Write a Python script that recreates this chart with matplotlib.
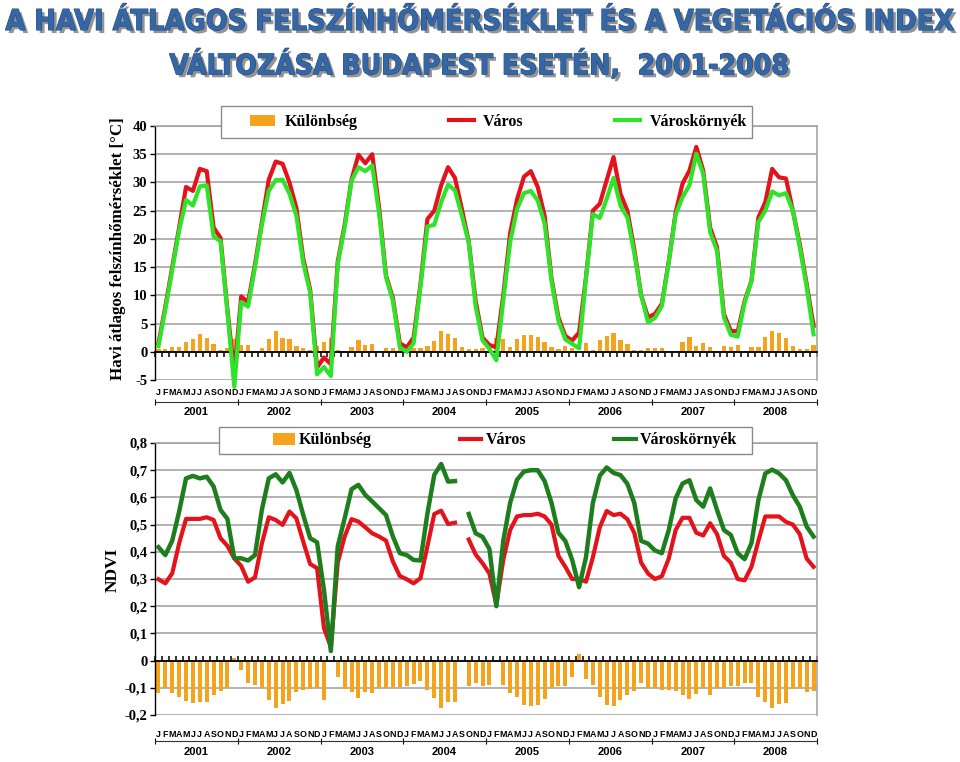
import os
import numpy as np
import matplotlib
matplotlib.use('Agg')
import matplotlib.pyplot as plt
from matplotlib import patheffects as pe
from matplotlib import font_manager
from matplotlib.font_manager import FontProperties
from matplotlib.patches import Patch, Rectangle
from matplotlib.lines import Line2D

# ---------------- data ----------------
months = ['J', 'F', 'M', 'A', 'M', 'J', 'J', 'A', 'S', 'O', 'N', 'D']
years = ['2001', '2002', '2003', '2004', '2005', '2006', '2007', '2008']
month_labels = months * len(years)

series_names = ['Különbség', 'Város', 'Városkörnyék']

temp_varos = [
    1.5, 8.0, 15.0, 22.0, 29.2, 28.5, 32.4, 32.0, 22.0, 20.2, 7.5, -4.0,
    9.8, 8.8, 15.5, 23.0, 30.5, 33.7, 33.3, 30.0, 25.5, 16.5, 11.0, -2.8,
    -1.0, -2.2, 16.0, 22.5, 30.5, 34.9, 33.4, 35.0, 25.5, 13.5, 9.5, 1.5,
    0.8, 2.5, 12.0, 23.5, 25.0, 29.5, 32.7, 30.8, 25.3, 19.5, 9.0, 2.5,
    1.2, 0.8, 10.0, 21.0, 27.0, 31.0, 32.0, 29.2, 24.1, 13.0, 6.1, 2.8,
    2.0, 3.4, 13.2, 25.0, 26.2, 30.4, 34.5, 28.0, 25.0, 18.2, 10.0, 6.1,
    6.7, 8.5, 16.0, 24.7, 29.8, 32.1, 36.3, 32.1, 22.0, 18.5, 6.7, 3.7,
    3.6, 9.0, 12.6, 23.8, 26.5, 32.4, 30.9, 30.7, 25.0, 19.1, 12.0, 4.6,
]
temp_kornyek = [
    1.0, 7.5, 14.5, 21.5, 26.9, 25.9, 29.3, 29.5, 20.4, 19.6, 7.0, -6.2,
    8.8, 8.0, 15.0, 22.5, 28.5, 30.4, 30.5, 28.0, 24.1, 15.7, 10.5, -4.0,
    -2.7, -4.3, 15.5, 22.0, 30.3, 32.7, 32.0, 33.0, 24.5, 13.2, 9.0, 0.8,
    0.0, 1.5, 11.5, 22.2, 22.5, 26.5, 29.6, 28.6, 24.1, 19.3, 8.0, 2.0,
    0.5, -1.5, 9.0, 19.4, 25.3, 28.1, 28.5, 26.8, 22.7, 12.5, 5.5, 2.2,
    1.4, 0.6, 13.0, 24.4, 23.7, 27.1, 30.8, 25.9, 23.8, 17.5, 10.0, 5.2,
    6.0, 8.1, 15.8, 24.3, 27.4, 29.5, 35.1, 31.5, 21.2, 17.9, 6.1, 3.0,
    2.7, 8.7, 12.5, 23.0, 25.0, 28.4, 27.7, 28.1, 25.0, 18.5, 11.5, 3.1,
]
temp_kulonbseg = [
    0.5, 0.5, 0.8, 0.8, 1.8, 2.3, 3.1, 2.4, 1.4, 0.4, 0.6, 2.2,
    1.2, 1.2, 0.0, 0.6, 2.3, 3.6, 2.4, 2.2, 1.1, 0.6, 0.4, 1.0,
    1.7, 2.4, 0.4, 0.0, 0.9, 2.1, 1.2, 1.4, 0.1, 0.6, 0.6, 0.6,
    0.1, 0.6, 0.6, 1.0, 1.9, 3.7, 3.1, 2.4, 0.9, 0.5, 0.5, 0.6,
    0.1, 2.4, 2.3, 0.9, 2.3, 2.9, 3.0, 2.7, 1.8, 0.8, 0.5, 1.0,
    0.7, 0.2, 1.6, 0.3, 2.1, 2.8, 3.3, 2.1, 1.3, 0.4, 0.4, 0.6,
    0.6, 0.6, 0.1, 0.1, 1.8, 2.7, 1.1, 1.6, 0.8, 0.1, 1.1, 0.9,
    1.2, 0.1, 0.9, 0.9, 2.6, 3.7, 3.3, 2.5, 1.1, 0.5, 0.5, 1.2,
]

nan = float('nan')
ndvi_varos = [
    0.299, 0.284, 0.321, 0.431, 0.521, 0.521, 0.521, 0.527, 0.517, 0.450, 0.422, 0.376,
    0.348, 0.290, 0.306, 0.431, 0.527, 0.517, 0.499, 0.548, 0.523, 0.437, 0.355, 0.340,
    0.120, 0.050, 0.360, 0.456, 0.520, 0.511, 0.490, 0.468, 0.456, 0.441, 0.364, 0.311,
    0.299, 0.284, 0.303, 0.420, 0.539, 0.551, 0.502, 0.507, nan, 0.445, 0.390, 0.358,
    0.320, 0.205, 0.370, 0.480, 0.530, 0.535, 0.535, 0.540, 0.530, 0.500, 0.385, 0.345,
    0.300, 0.300, 0.290, 0.380, 0.490, 0.550, 0.535, 0.540, 0.520, 0.470, 0.360, 0.320,
    0.300, 0.310, 0.375, 0.480, 0.525, 0.525, 0.470, 0.460, 0.505, 0.465, 0.385, 0.360,
    0.300, 0.295, 0.345, 0.440, 0.530, 0.530, 0.530, 0.510, 0.500, 0.465, 0.375, 0.345,
]
ndvi_kornyek = [
    0.417, 0.388, 0.441, 0.548, 0.670, 0.679, 0.670, 0.676, 0.640, 0.554, 0.521, 0.376,
    0.376, 0.368, 0.388, 0.555, 0.670, 0.685, 0.655, 0.690, 0.627, 0.535, 0.450, 0.435,
    0.260, 0.035, 0.420, 0.523, 0.630, 0.646, 0.609, 0.585, 0.560, 0.535, 0.456, 0.395,
    0.388, 0.370, 0.368, 0.540, 0.683, 0.723, 0.658, 0.660, nan, 0.539, 0.468, 0.455,
    0.410, 0.200, 0.440, 0.580, 0.665, 0.695, 0.700, 0.700, 0.660, 0.580, 0.470, 0.440,
    0.370, 0.270, 0.380, 0.580, 0.680, 0.710, 0.690, 0.682, 0.650, 0.580, 0.440, 0.430,
    0.405, 0.395, 0.480, 0.596, 0.651, 0.663, 0.590, 0.566, 0.633, 0.554, 0.480, 0.462,
    0.395, 0.373, 0.432, 0.590, 0.688, 0.702, 0.688, 0.663, 0.608, 0.566, 0.493, 0.456,
]
ndvi_kulonbseg = [
    -0.120, -0.100, -0.120, -0.132, -0.150, -0.157, -0.153, -0.153, -0.126, -0.110, -0.100, 0.008,
    -0.034, -0.083, -0.090, -0.100, -0.145, -0.173, -0.160, -0.148, -0.114, -0.108, -0.104, -0.100,
    -0.145, 0.000, -0.059, -0.105, -0.114, -0.136, -0.116, -0.120, -0.100, -0.100, -0.096, -0.096,
    -0.092, -0.087, -0.074, -0.108, -0.136, -0.173, -0.151, -0.153, nan, -0.095, -0.083, -0.095,
    -0.089, 0.000, -0.090, -0.120, -0.132, -0.162, -0.168, -0.162, -0.141, -0.101, -0.093, -0.093,
    -0.059, 0.023, -0.068, -0.089, -0.132, -0.165, -0.166, -0.144, -0.126, -0.110, -0.083, -0.101,
    -0.099, -0.107, -0.107, -0.113, -0.126, -0.141, -0.123, -0.101, -0.126, -0.101, -0.101, -0.095,
    -0.093, -0.083, -0.083, -0.132, -0.154, -0.176, -0.159, -0.156, -0.105, -0.101, -0.115, -0.110,
]

temp_ticks = [-5, 0, 5, 10, 15, 20, 25, 30, 35, 40]
temp_ticklabels = ['-5', '0', '5', '10', '15', '20', '25', '30', '35', '40']
ndvi_ticks = [-0.2, -0.1, 0.0, 0.1, 0.2, 0.3, 0.4, 0.5, 0.6, 0.7, 0.8]
ndvi_ticklabels = ['-0,2', '-0,1', '0', '0,1', '0,2', '0,3', '0,4', '0,5', '0,6', '0,7', '0,8']

title_1 = 'A HAVI ÁTLAGOS FELSZÍNHŐMÉRSÉKLET ÉS A VEGETÁCIÓS INDEX'
title_2 = 'VÁLTOZÁSA BUDAPEST ESETÉN,  2001-2008'
ylabel_temp = 'Havi átlagos felszínhőmérséklet [°C]'
ylabel_ndvi = 'NDVI'

# ---------------- style ----------------
ORANGE = '#F5A21C'
RED = '#E3121B'
GREEN_T = '#2FE32A'
GREEN_N = '#1E7E1E'
GRID = '#9E9E9E'
SERIF = ['Liberation Serif', 'DejaVu Serif']
SANS = ['Liberation Sans', 'DejaVu Sans']


def pick_title_font():
    best, best_score = None, -1e9
    for f in font_manager.fontManager.ttflist:
        key = (f.name + ' ' + os.path.basename(f.fname)).lower().replace(' ', '')
        if f.style != 'normal' or 'mono' in key or 'cjk' in key:
            continue
        if 'serif' in key and 'sans' not in key:
            continue
        if 'extracondensed' in key or 'ultracondensed' in key:
            s = 30
        elif 'semicondensed' in key:
            s = 10
        elif 'condensed' in key or 'narrow' in key:
            s = 40
        else:
            continue
        w = f.weight if isinstance(f.weight, int) else font_manager.weight_dict.get(f.weight, 400)
        if w < 600 or w > 850:
            continue
        s -= abs(w - 700) / 100.0
        if s > best_score:
            best, best_score = f.fname, s
    if best is None:
        return FontProperties(family='DejaVu Sans', weight='bold')
    return FontProperties(fname=best)


W, H = 960, 762
fig = plt.figure(figsize=(W / 100, H / 100), dpi=100)


def rect(l, t, r, b):
    return [l / W, 1 - b / H, (r - l) / W, (b - t) / H]


ax1 = fig.add_axes(rect(155, 126, 817, 380))
ax2 = fig.add_axes(rect(155, 443, 817, 715))
x = np.arange(len(month_labels))


def setup(ax, ticks, ticklabels, ylim, tick_dir, month_pad, year_loc, year_pad):
    ax.set_xlim(-0.5, len(month_labels) - 0.5)
    ax.set_ylim(*ylim)
    ax.set_yticks(ticks)
    ax.set_yticklabels(ticklabels, fontfamily=SERIF, fontweight='bold', fontsize=10.5)
    ax.yaxis.grid(True, color=GRID, lw=1.1)
    ax.set_axisbelow(True)
    for s in ['top', 'right']:
        ax.spines[s].set_color(GRID)
        ax.spines[s].set_linewidth(1.1)
    ax.spines['left'].set_color('black')
    ax.spines['left'].set_linewidth(1.0)
    ax.spines['bottom'].set_position(('data', 0))
    ax.spines['bottom'].set_color('black')
    ax.spines['bottom'].set_linewidth(1.3)
    ax.tick_params(axis='y', direction='out', length=3.5, width=1, pad=2)
    ax.set_xticks(np.arange(-0.5, len(month_labels), 1))
    ax.tick_params(axis='x', direction=tick_dir, length=3.8, width=1.1,
                   labelbottom=False)
    # month level of the category axis
    sec = ax.secondary_xaxis('bottom')
    sec.set_xticks(x, month_labels, fontfamily=SANS, fontweight='bold', fontsize=6.4)
    sec.tick_params(length=0, pad=month_pad)
    sec.spines['bottom'].set_visible(False)
    # year level
    sec2 = ax.secondary_xaxis(year_loc)
    sec2.set_xticks(np.arange(5.5, len(month_labels), 12), years,
                    fontfamily=SANS, fontweight='bold', fontsize=8)
    sec2.set_xticks(np.arange(-0.5, len(month_labels), 12), minor=True)
    sec2.tick_params(which='major', length=0, pad=year_pad)
    sec2.tick_params(which='minor', length=5, direction='inout', width=0.8)
    sec2.spines['bottom'].set_color('#333333')
    sec2.spines['bottom'].set_linewidth(0.8)


# ---- temperature panel ----
setup(ax1, temp_ticks, temp_ticklabels, (-5, 40), 'out', 6.0, -0.0854, 3.5)
ax1.bar(x, temp_kulonbseg, width=0.62, color=ORANGE, zorder=2)
ax1.plot(x, temp_varos, color=RED, lw=3.0, zorder=3, clip_on=False,
         solid_joinstyle='round')
ax1.plot(x, temp_kornyek, color=GREEN_T, lw=3.0, zorder=4, clip_on=False,
         solid_joinstyle='round')
ax1.set_ylabel(ylabel_temp, fontfamily=SERIF, fontweight='bold', fontsize=12.2,
               va='center')
ax1.yaxis.set_label_coords((118 - 155) / 662, (380 - 249) / 254)

# ---- NDVI panel ----
setup(ax2, ndvi_ticks, ndvi_ticklabels, (-0.2, 0.8), 'in', 10.5, -0.0956, 4.5)
ax2.bar(x, ndvi_kulonbseg, width=0.58, color=ORANGE, zorder=2)
ax2.plot(x, ndvi_varos, color=RED, lw=3.0, zorder=3, solid_joinstyle='round')
ax2.plot(x, ndvi_kornyek, color=GREEN_N, lw=3.2, zorder=4, solid_joinstyle='round')
ax2.set_ylabel(ylabel_ndvi, fontfamily=SERIF, fontweight='bold', fontsize=12.5,
               va='center')
ax2.yaxis.set_label_coords((113 - 155) / 662, (715 - 570) / 272)


# ---- legends (white box + entries spread across it) ----
def make_legend(green, box, content, handlelength, textpad):
    l, t, r, b = box
    fig.add_artist(Rectangle((l / W, 1 - b / H), (r - l) / W, (b - t) / H,
                             transform=fig.transFigure, facecolor='white',
                             edgecolor='#8a8a8a', lw=1.0, zorder=5))
    handles = [Patch(facecolor=ORANGE, edgecolor='none'),
               Line2D([], [], color=RED, lw=3),
               Line2D([], [], color=green, lw=3)]
    cl, cr = content
    leg = fig.legend(handles, series_names, loc='center',
                     bbox_to_anchor=(cl / W, 1 - b / H, (cr - cl) / W, (b - t) / H),
                     mode='expand', ncol=3, borderaxespad=0,
                     prop=dict(family=SERIF, weight='bold', size=11.5),
                     frameon=False, handlelength=handlelength,
                     handletextpad=textpad, borderpad=0)
    leg.set_zorder(6)
    return leg


make_legend(GREEN_T, (221, 106, 752, 138), (250, 747), 1.55, 0.6)
make_legend(GREEN_N, (219, 427, 752, 454), (273, 737), 1.35, 0.25)

# ---- title ----
tprop = pick_title_font()
effects = [pe.SimplePatchShadow(offset=(2.2, -2.2), shadow_rgbFace='#3c3c3c', alpha=0.55),
           pe.Stroke(linewidth=0.8, foreground='#244a7c'), pe.Normal()]
t1 = fig.text(0.5, 1 - 22 / H, title_1, ha='center', va='center',
              fontproperties=tprop, color='#3567A6', path_effects=effects)
t2 = fig.text(0.5, 1 - 65 / H, title_2, ha='center', va='center',
              fontproperties=tprop, color='#3567A6', path_effects=effects)
renderer = fig.canvas.get_renderer()
for t, target in [(t1, 950), (t2, 620)]:
    t.set_fontsize(24)
    w = t.get_window_extent(renderer).width
    t.set_fontsize(min(26.5, 24 * target / w))

fig.savefig('out.png', dpi=100)
